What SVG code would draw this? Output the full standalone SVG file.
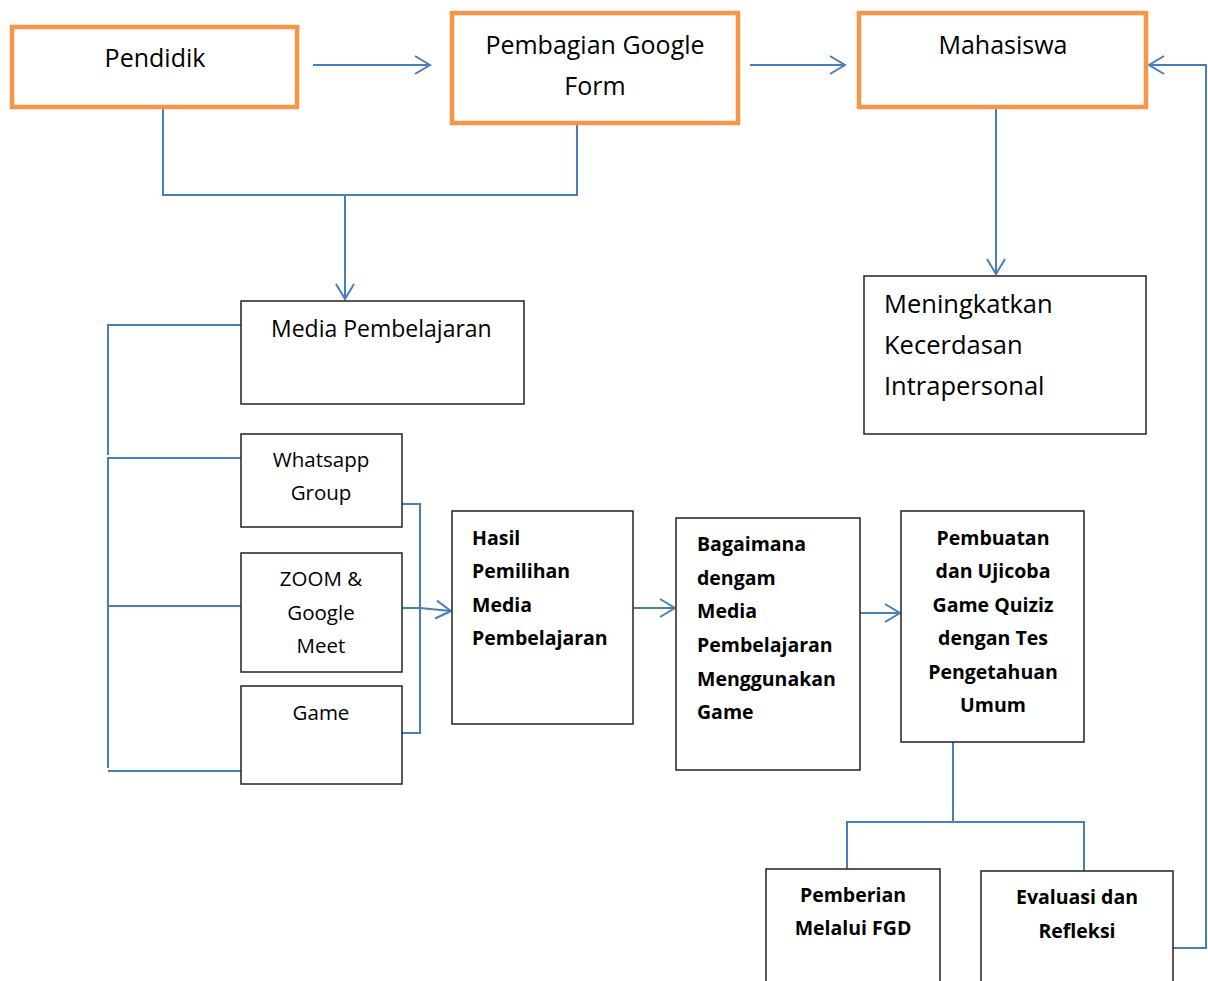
<svg xmlns="http://www.w3.org/2000/svg" width="1208" height="981" viewBox="0 0 1208 981">
<style>
.o{fill:#fff;stroke:#F79646;stroke-width:4.5}
.b{fill:#fff;stroke:#222;stroke-width:1.5}
.c{fill:none;stroke:#4A7EBB;stroke-width:2}
.t{font-family:"Open Sans","Liberation Sans",sans-serif;fill:#000}
.n{font-size:25px}
.l{font-size:25.5px}
.m{font-size:23px}
.s{font-size:20.5px}
.bd{font-size:19.5px;font-weight:bold}
</style>
<defs>
<marker id="ah" markerUnits="userSpaceOnUse" markerWidth="22" markerHeight="22" refX="15" refY="10" orient="auto" overflow="visible">
<path d="M0,1 L15,10 L0,19" fill="none" stroke="#4A7EBB" stroke-width="2"/>
</marker>
</defs>
<rect width="1208" height="981" fill="#fff"/>
<g id="connectors">
<path class="c" d="M313,65 H430" marker-end="url(#ah)"/>
<path class="c" d="M750,65 H845" marker-end="url(#ah)"/>
<path class="c" d="M1173,948 H1206 V65 H1149" marker-end="url(#ah)"/>
<path class="c" d="M163,109 V195 H577 V125"/>
<path class="c" d="M345,195 V299" marker-end="url(#ah)"/>
<path class="c" d="M996,107 V274" marker-end="url(#ah)"/>
<path class="c" d="M241,325 H108 V455"/>
<path class="c" d="M241,458 H108 V768"/>
<path class="c" d="M241,606 H108"/>
<path class="c" d="M241,771 H108"/>
<path class="c" d="M402,504 H420 V733 H402"/>
<path class="c" d="M402,608 H420 L451,611" marker-end="url(#ah)"/>
<path class="c" d="M633,608 H675" marker-end="url(#ah)"/>
<path class="c" d="M860,613 H900" marker-end="url(#ah)"/>
<path class="c" d="M953,742 V822 M847,869 V822 H1084 V871"/>
</g>
<g id="pendidik">
<rect class="o" x="12" y="27" width="285" height="80"/>
<text class="t n" x="155" y="67" text-anchor="middle">Pendidik</text>
</g>
<g id="pembagian">
<rect class="o" x="452" y="13" width="286" height="110"/>
<text class="t n" x="595" y="54" text-anchor="middle">Pembagian Google</text>
<text class="t n" x="595" y="95" text-anchor="middle">Form</text>
</g>
<g id="mahasiswa">
<rect class="o" x="859" y="13" width="287" height="94"/>
<text class="t n" x="1003" y="54" text-anchor="middle">Mahasiswa</text>
</g>
<g id="meningkatkan">
<rect class="b" x="864" y="276" width="282" height="158"/>
<text class="t l" x="884" y="313">Meningkatkan</text>
<text class="t l" x="884" y="354">Kecerdasan</text>
<text class="t l" x="884" y="395">Intrapersonal</text>
</g>
<g id="media">
<rect class="b" x="241" y="301" width="283" height="103"/>
<text class="t m" x="271" y="337">Media Pembelajaran</text>
</g>
<g id="whatsapp">
<rect class="b" x="241" y="434" width="161" height="93"/>
<text class="t s" x="321" y="467" text-anchor="middle">Whatsapp</text>
<text class="t s" x="321" y="500" text-anchor="middle">Group</text>
</g>
<g id="zoom">
<rect class="b" x="241" y="553" width="161" height="119"/>
<text class="t s" x="321" y="586" text-anchor="middle">ZOOM &amp;</text>
<text class="t s" x="321" y="620" text-anchor="middle">Google</text>
<text class="t s" x="321" y="653" text-anchor="middle">Meet</text>
</g>
<g id="game">
<rect class="b" x="241" y="686" width="161" height="98"/>
<text class="t s" x="321" y="720" text-anchor="middle">Game</text>
</g>
<g id="hasil">
<rect class="b" x="452" y="511" width="181" height="213"/>
<text class="t bd" x="472" y="545">Hasil</text>
<text class="t bd" x="472" y="578">Pemilihan</text>
<text class="t bd" x="472" y="612">Media</text>
<text class="t bd" x="472" y="645">Pembelajaran</text>
</g>
<g id="bagaimana">
<rect class="b" x="676" y="518" width="184" height="252"/>
<text class="t bd" x="697" y="551">Bagaimana</text>
<text class="t bd" x="697" y="585">dengam</text>
<text class="t bd" x="697" y="618">Media</text>
<text class="t bd" x="697" y="652">Pembelajaran</text>
<text class="t bd" x="697" y="686">Menggunakan</text>
<text class="t bd" x="697" y="719">Game</text>
</g>
<g id="pembuatan">
<rect class="b" x="901" y="511" width="183" height="231"/>
<text class="t bd" x="993" y="545" text-anchor="middle">Pembuatan</text>
<text class="t bd" x="993" y="578" text-anchor="middle">dan Ujicoba</text>
<text class="t bd" x="993" y="612" text-anchor="middle">Game Quiziz</text>
<text class="t bd" x="993" y="645" text-anchor="middle">dengan Tes</text>
<text class="t bd" x="993" y="679" text-anchor="middle">Pengetahuan</text>
<text class="t bd" x="993" y="712" text-anchor="middle">Umum</text>
</g>
<g id="pemberian">
<rect class="b" x="766" y="869" width="174" height="120"/>
<text class="t bd" x="853" y="902" text-anchor="middle">Pemberian</text>
<text class="t bd" x="853" y="935" text-anchor="middle">Melalui FGD</text>
</g>
<g id="evaluasi">
<rect class="b" x="981" y="871" width="192" height="120"/>
<text class="t bd" x="1077" y="904" text-anchor="middle">Evaluasi dan</text>
<text class="t bd" x="1077" y="938" text-anchor="middle">Refleksi</text>
</g>
</svg>
